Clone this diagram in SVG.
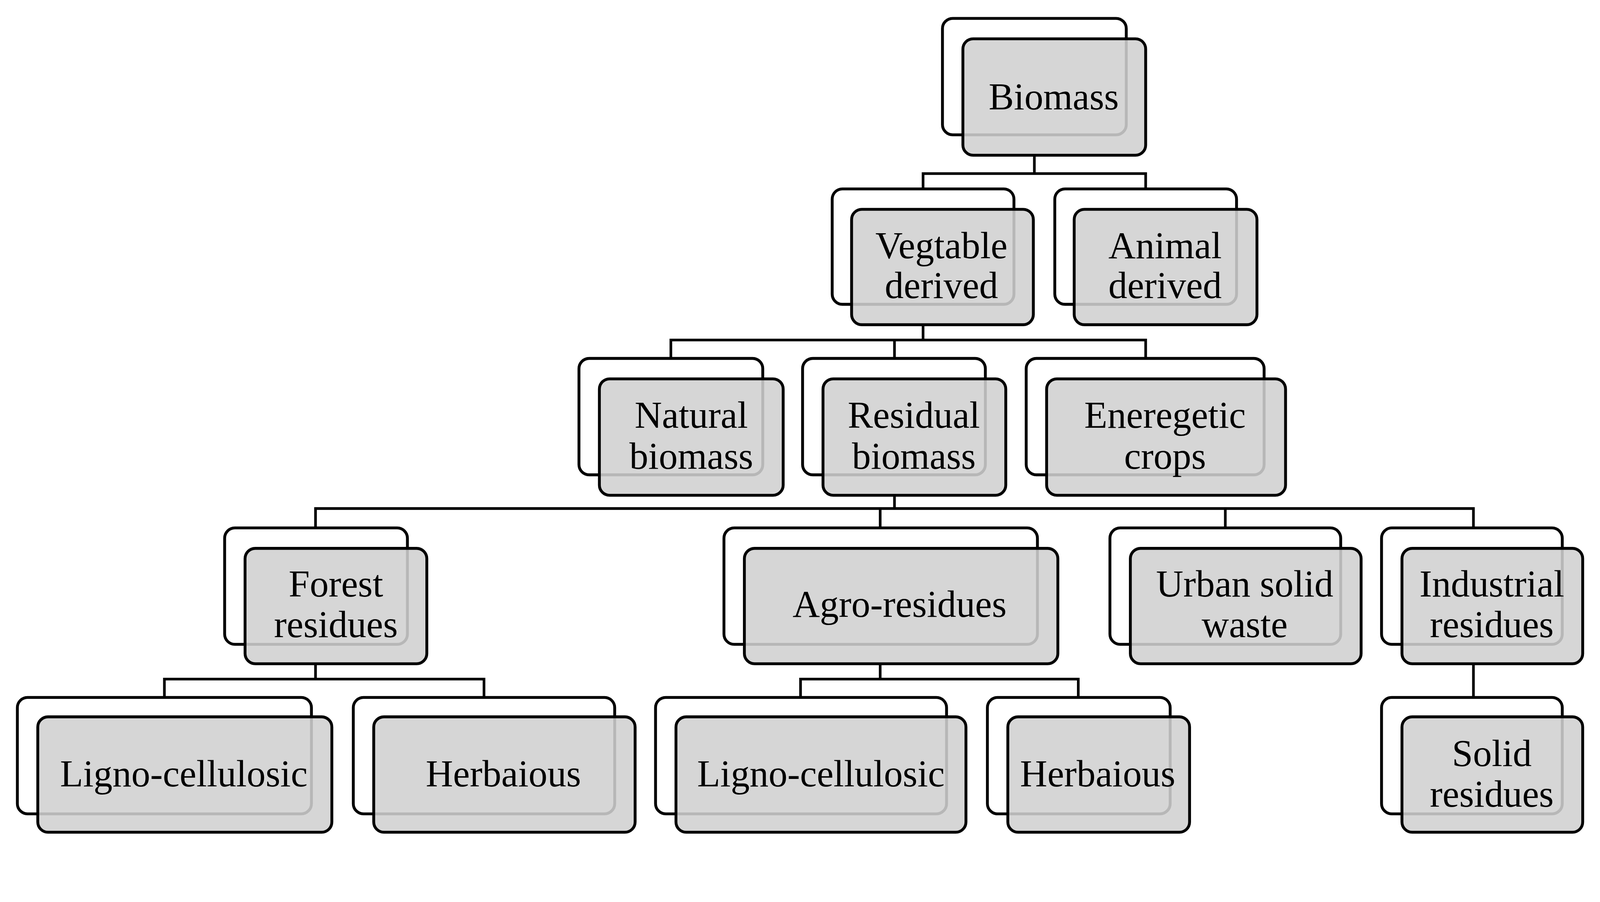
<svg xmlns="http://www.w3.org/2000/svg" width="4373" height="2309" viewBox="0 0 4373 2309">
<style>
.b{fill:#fff;stroke:#000;stroke-width:2.8}
.f{fill:#d0d0d0;fill-opacity:0.88;stroke:#000;stroke-width:2.8}
.c{fill:none;stroke:#000;stroke-width:2.6}
text{font-family:"Liberation Serif","Times New Roman",serif;font-size:37px;text-anchor:middle;fill:#000}
</style>
<rect width="4373" height="2309" fill="#fff"/>
<g transform="scale(2.614)">
<g id="connectors">
<path class="c" d="M1013 152V170M904 185V170H1122V185"/>
<path class="c" d="M904 318V333M657 351V333H1122V351M876 333V351"/>
<path class="c" d="M876 485V498M309 517V498H1443V517M862 498V517M1200 498V517"/>
<path class="c" d="M309 650V665M161 683V665H474V683"/>
<path class="c" d="M862 650V665M784 683V665H1056V683"/>
<path class="c" d="M1443 650V683"/>
</g>
<g id="biomass"><rect class="b" x="923" y="18" width="180" height="114" rx="10"/><rect class="f" x="943" y="38" width="179" height="114" rx="10"/><text x="1032" y="107">Biomass</text></g>
<g id="vegetable"><rect class="b" x="815" y="185" width="178" height="113" rx="10"/><rect class="f" x="834" y="205" width="178" height="113" rx="10"/><text x="922" y="253">Vegtable</text><text x="922" y="292">derived</text></g>
<g id="animal"><rect class="b" x="1033" y="185" width="178" height="113" rx="10"/><rect class="f" x="1052" y="205" width="179" height="113" rx="10"/><text x="1141" y="253">Animal</text><text x="1141" y="292">derived</text></g>
<g id="natural"><rect class="b" x="567" y="351" width="180" height="114" rx="10"/><rect class="f" x="587" y="371" width="180" height="114" rx="10"/><text x="677" y="419">Natural</text><text x="677" y="459">biomass</text></g>
<g id="residual"><rect class="b" x="786" y="351" width="179" height="114" rx="10"/><rect class="f" x="806" y="371" width="179" height="114" rx="10"/><text x="895" y="419">Residual</text><text x="895" y="459">biomass</text></g>
<g id="energetic"><rect class="b" x="1005" y="351" width="233" height="114" rx="10"/><rect class="f" x="1025" y="371" width="234" height="114" rx="10"/><text x="1141" y="419">Eneregetic</text><text x="1141" y="459">crops</text></g>
<g id="forest"><rect class="b" x="220" y="517" width="179" height="114" rx="10"/><rect class="f" x="240" y="537" width="178" height="113" rx="10"/><text x="329" y="584">Forest</text><text x="329" y="624">residues</text></g>
<g id="agro"><rect class="b" x="709" y="517" width="307" height="114" rx="10"/><rect class="f" x="729" y="537" width="307" height="113" rx="10"/><text x="881" y="604">Agro-residues</text></g>
<g id="urban"><rect class="b" x="1087" y="517" width="226" height="114" rx="10"/><rect class="f" x="1107" y="537" width="226" height="113" rx="10"/><text x="1219" y="584">Urban solid</text><text x="1219" y="624">waste</text></g>
<g id="industrial"><rect class="b" x="1353" y="517" width="177" height="114" rx="10"/><rect class="f" x="1373" y="537" width="177" height="113" rx="10"/><text x="1461" y="584">Industrial</text><text x="1461" y="624">residues</text></g>
<g id="ligno1"><rect class="b" x="17" y="683" width="288" height="114" rx="10"/><rect class="f" x="37" y="702" width="288" height="113" rx="10"/><text x="180" y="770">Ligno-cellulosic</text></g>
<g id="herb1"><rect class="b" x="346" y="683" width="256" height="114" rx="10"/><rect class="f" x="366" y="702" width="256" height="113" rx="10"/><text x="493" y="770">Herbaious</text></g>
<g id="ligno2"><rect class="b" x="642" y="683" width="285" height="114" rx="10"/><rect class="f" x="662" y="702" width="284" height="113" rx="10"/><text x="804" y="770">Ligno-cellulosic</text></g>
<g id="herb2"><rect class="b" x="967" y="683" width="179" height="114" rx="10"/><rect class="f" x="987" y="702" width="178" height="113" rx="10"/><text x="1075" y="770">Herbaious</text></g>
<g id="solid"><rect class="b" x="1353" y="683" width="177" height="114" rx="10"/><rect class="f" x="1373" y="702" width="177" height="113" rx="10"/><text x="1461" y="750">Solid</text><text x="1461" y="790">residues</text></g>
</g>
</svg>
